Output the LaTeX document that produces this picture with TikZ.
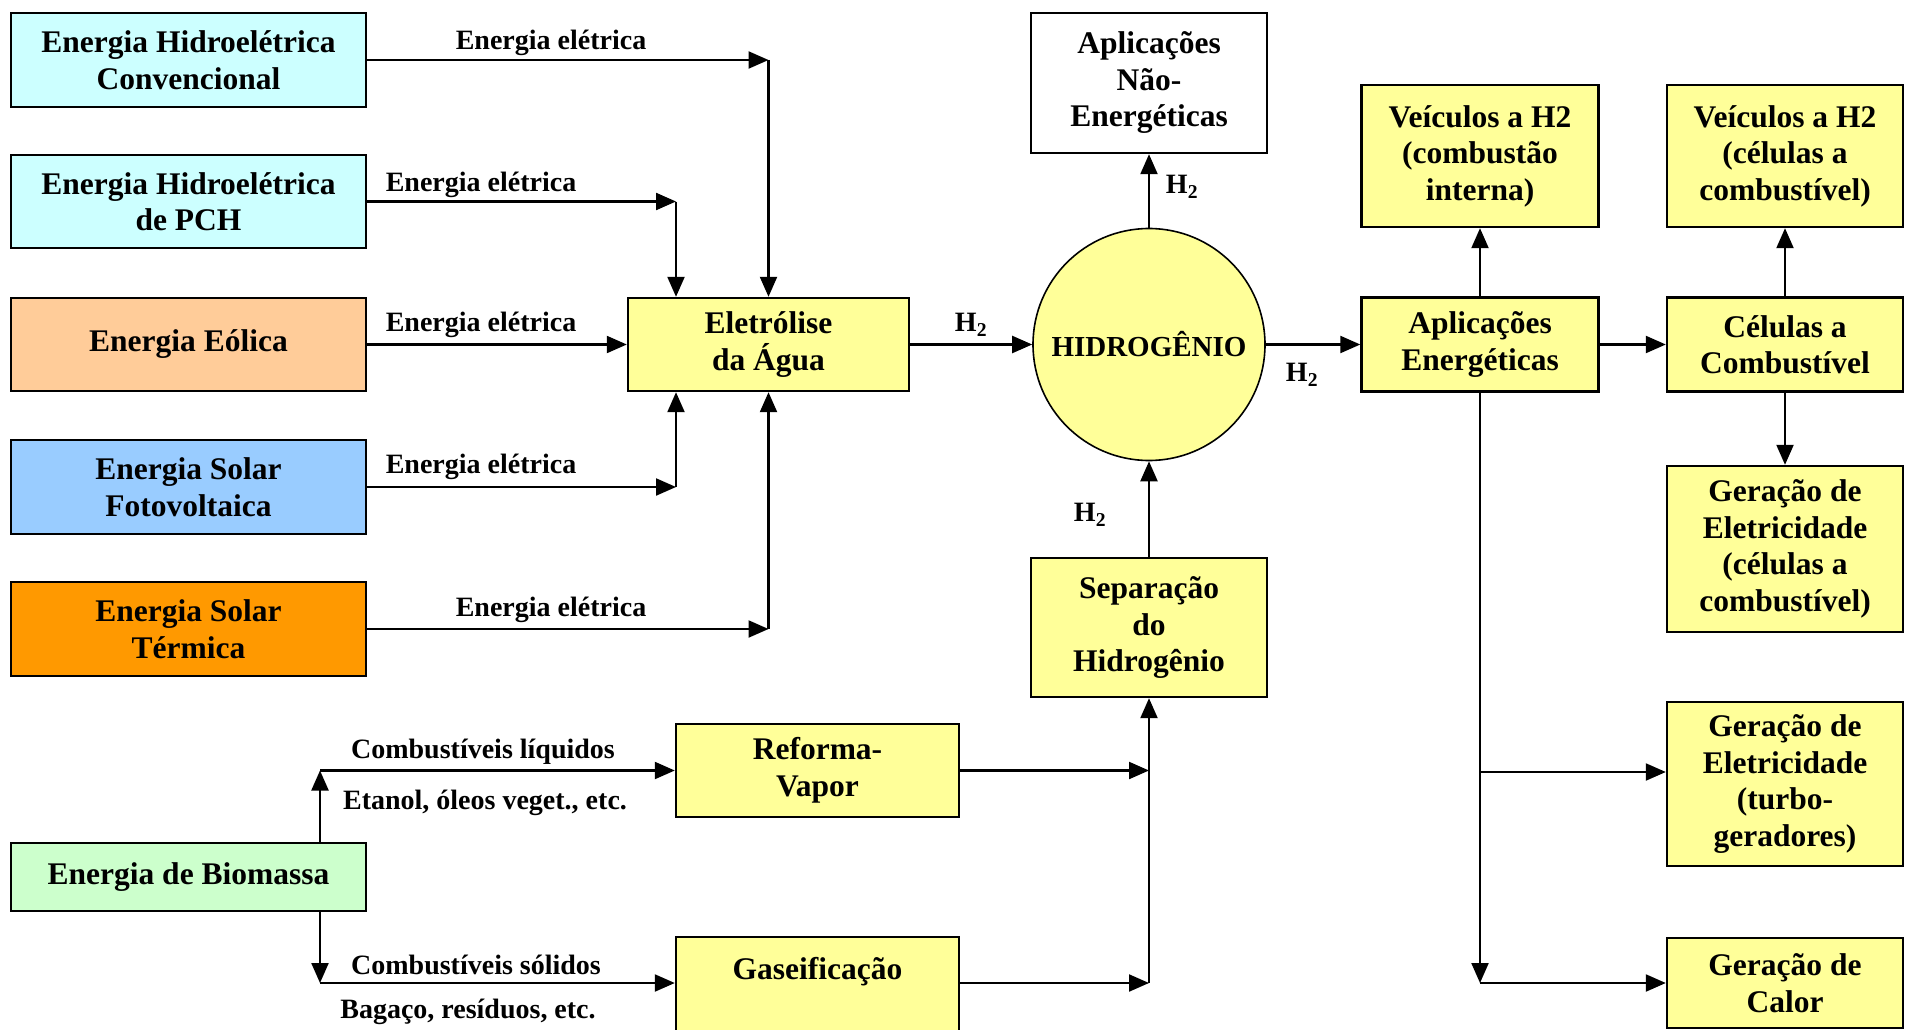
\documentclass[tikz,border=0pt]{standalone}
\usepackage{fontspec}
\setmainfont{Liberation Serif}
\usetikzlibrary{arrows.meta}
\definecolor{hydroc}{HTML}{CCFFFF}
\definecolor{windc}{HTML}{FFCC99}
\definecolor{pvc}{HTML}{99CCFF}
\definecolor{thermc}{HTML}{FF9900}
\definecolor{bioc}{HTML}{CCFFCC}
\definecolor{yelc}{HTML}{FFFF99}
\begin{document}
\begin{tikzpicture}[x=1pt,y=-1pt,
  box/.style={draw=black, line width=2.4pt, rectangle, align=center, inner sep=2pt,
    font=\fontsize{31.5}{36.5}\selectfont\bfseries},
  srcbox/.style={box, minimum width=355pt, minimum height=94pt},
  ybox/.style={box, fill=yelc},
  lbl/.style={font=\fontsize{28}{33}\selectfont\bfseries, inner sep=0pt},
  arr/.style={line width=2.2pt, -{Triangle[length=20pt,width=17pt]}},
  ln/.style={line width=2.2pt}]
\useasboundingbox (0,0) rectangle (1905,1030);
\fill[white] (0,0) rectangle (1905,1030);

% sources
\node[srcbox, fill=hydroc] (conv) at (188.5,60) {Energia Hidroelétrica\\Convencional};
\node[srcbox, fill=hydroc, minimum height=93pt] (pch) at (188.5,201.5) {Energia Hidroelétrica\\de PCH};
\node[srcbox, fill=windc, minimum height=93pt] (eol) at (188.5,344.5) {Energia Eólica};
\node[srcbox, fill=pvc] (fv) at (188.5,487) {Energia Solar\\Fotovoltaica};
\node[srcbox, fill=thermc] (term) at (188.5,629) {Energia Solar\\Térmica};
\node[srcbox, fill=bioc, minimum height=68pt] (bio) at (188.5,877) {Energia de Biomassa};

% process boxes
\node[ybox, minimum width=281pt, minimum height=93pt] (elet) at (768.5,344.5) {Eletrólise\\da Água};
\node[box, fill=white, minimum width=236pt, minimum height=140pt] (nao) at (1149,83) {Aplicações\\Não-\\Energéticas};
\node[circle, draw=black, line width=1.6pt, fill=yelc, minimum size=232pt, inner sep=0pt,
  font=\fontsize{29}{34}\selectfont\bfseries] (hid) at (1149,344.5) {HIDROGÊNIO};
\node[ybox, minimum width=236pt, minimum height=139pt] (sep) at (1149,627.5) {Separação\\do\\Hidrogênio};
\node[ybox, minimum width=283pt, minimum height=93pt] (ref) at (817.5,770.5) {Reforma-\\Vapor};
\node[ybox, minimum width=283pt, minimum height=96pt, text depth=33pt] (gas) at (817.5,985) {Gaseificação};

% applications
\node[ybox, minimum width=237pt, minimum height=94pt] (apl) at (1480,344.5) {Aplicações\\Energéticas};
\node[ybox, minimum width=237pt, minimum height=142pt] (vci) at (1480,156) {Veículos a H2\\(combustão\\interna)};
\node[ybox, minimum width=236pt, minimum height=142pt] (vcc) at (1785,156) {Veículos a H2\\(células a\\combustível)};
\node[ybox, minimum width=236pt, minimum height=94pt] (cel) at (1785,344.5) {Células a\\Combustível};
\node[ybox, minimum width=236pt, minimum height=166pt] (gec) at (1785,549) {Geração de\\Eletricidade\\(células a\\combustível)};
\node[ybox, minimum width=236pt, minimum height=164pt] (get) at (1785,784) {Geração de\\Eletricidade\\(turbo-\\geradores)};
\node[ybox, minimum width=236pt, minimum height=90pt] (cal) at (1785,983) {Geração de\\Calor};

% junction points
\coordinate (c1) at (768.5,60);
\coordinate (c2) at (676,201.5);
\coordinate (c4) at (676,487);
\coordinate (c5) at (768.5,629);
\coordinate (bl) at (320,770.5);
\coordinate (bs) at (320,983);
\coordinate (rj) at (1149,770.5);
\coordinate (gj) at (1149,983);
\coordinate (am) at (1480,772);
\coordinate (ad) at (1480,983);

% electricity connectors
\draw[arr] (conv.east) -- (c1);
\draw[arr] (c1) -- (elet.north);
\draw[arr] (pch.east) -- (c2);
\draw[arr] (c2) -- (c2 |- elet.north);
\draw[arr] (eol.east) -- (elet.west);
\draw[arr] (fv.east) -- (c4);
\draw[arr] (c4) -- (c4 |- elet.south);
\draw[arr] (term.east) -- (c5);
\draw[arr] (c5) -- (elet.south);

\node[lbl] (l1) at (551,43) {Energia elétrica};
\node[lbl] (l2) at (481,185) {Energia elétrica};
\node[lbl] (l3) at (481,325) {Energia elétrica};
\node[lbl] (l4) at (481,467) {Energia elétrica};
\node[lbl] (l5) at (551,610) {Energia elétrica};

% hydrogen
\draw[arr] (elet.east) -- (hid.west);
\draw[arr] (hid.north) -- (nao.south);
\draw[arr] (hid.east) -- (apl.west);
\draw[arr] (sep.north) -- (hid.south);
\node[lbl] (h1) at (971,325) {H\textsubscript{2}};
\node[lbl] (h2) at (1182,187) {H\textsubscript{2}};
\node[lbl] (h3) at (1302,375) {H\textsubscript{2}};
\node[lbl] (h4) at (1090,515) {H\textsubscript{2}};

% biomass
\draw[arr] (bio.north -| bl) -- (bl);
\draw[arr] (bl) -- (ref.west);
\draw[arr] (bio.south -| bs) -- (bs);
\draw[arr] (bs) -- (bs -| gas.west);
\node[lbl] (b1) at (483,752) {Combustíveis líquidos};
\node[lbl] (b2) at (485,803) {Etanol, óleos veget., etc.};
\node[lbl] (b3) at (476,965) {Combustíveis sólidos};
\node[lbl] (b4) at (468,1012) {Bagaço, resíduos, etc.};

\draw[arr] (ref.east) -- (rj);
\draw[arr] (gj -| gas.east) -- (gj);
\draw[arr] (gj) -- (sep.south);

% applications
\draw[arr] (apl.north) -- (vci.south);
\draw[arr] (apl.east) -- (cel.west);
\draw[arr] (cel.north) -- (vcc.south);
\draw[arr] (cel.south) -- (gec.north);
\draw[arr] (apl.south) -- (ad);
\draw[arr] (am) -- (am -| get.west);
\draw[arr] (ad) -- (ad -| cal.west);
\end{tikzpicture}
\end{document}
